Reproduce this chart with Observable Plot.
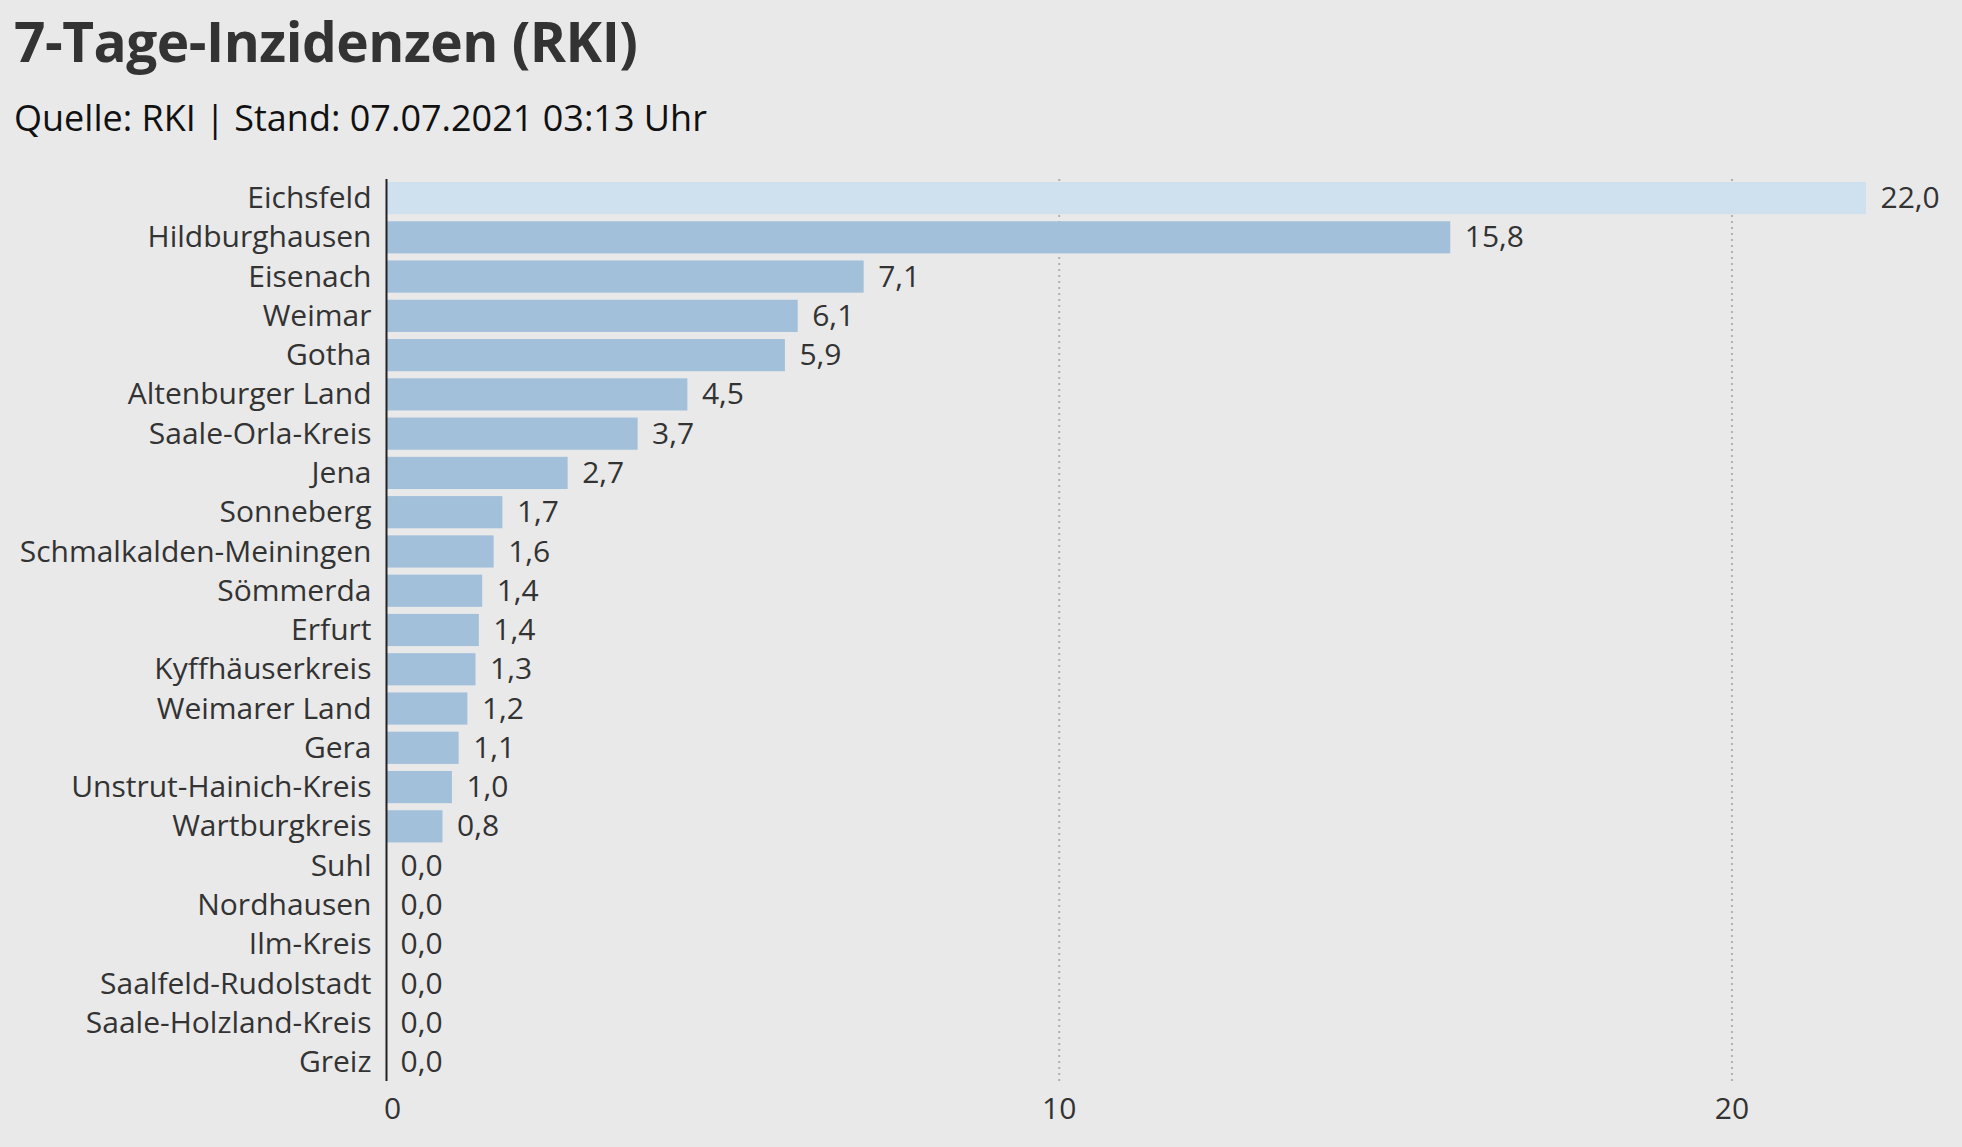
<!DOCTYPE html>
<html>
<head>
<meta charset="utf-8">
<script src="https://cdn.jsdelivr.net/npm/d3@7"></script>
<script src="https://cdn.jsdelivr.net/npm/@observablehq/plot@0.6"></script>
<style>
  html, body { margin: 0; padding: 0; background: #e9e9e9; overflow: hidden; }
  body { font-family: "Open Sans", sans-serif; color: #333; }
  #header { position: relative; height: 160px; }
  #title { position: absolute; left: 14px; top: 3px; font-size: 55px; font-weight: 700; color: #333; letter-spacing: -0.5px; }
  #subtitle { position: absolute; left: 14px; top: 93px; font-size: 36px; font-weight: 400; color: #111; }
</style>
</head>
<body>
<div id="header">
  <div id="title">7-Tage-Inzidenzen (RKI)</div>
  <div id="subtitle">Quelle: RKI | Stand: 07.07.2021 03:13 Uhr</div>
</div>
<div id="chart"></div>
<script>
const districts = ["Eichsfeld","Hildburghausen","Eisenach","Weimar","Gotha","Altenburger Land","Saale-Orla-Kreis","Jena","Sonneberg","Schmalkalden-Meiningen","Sömmerda","Erfurt","Kyffhäuserkreis","Weimarer Land","Gera","Unstrut-Hainich-Kreis","Wartburgkreis","Suhl","Nordhausen","Ilm-Kreis","Saalfeld-Rudolstadt","Saale-Holzland-Kreis","Greiz"];
const incidence = [22.0,15.82,7.10,6.12,5.93,4.48,3.74,2.70,1.73,1.60,1.43,1.38,1.33,1.21,1.08,0.98,0.84,0,0,0,0,0,0];
const xTicks = [0,10,20];

const data = districts.map((name, i) => ({name, value: incidence[i]}));
const fmt = v => v.toFixed(1).replace(".", ",");

const chart = Plot.plot({
  width: 1962,
  height: 987,
  marginTop: 19,
  marginBottom: 66,
  marginLeft: 386,
  marginRight: 96,
  style: {background: "#e9e9e9", fontFamily: "Open Sans, sans-serif", color: "#333", fontSize: "30px"},
  x: {domain: [0, 22], ticks: xTicks},
  y: {domain: districts, paddingInner: 0.18, paddingOuter: 0.075, round: false},
  marks: [
    Plot.gridX(xTicks.filter(t => t > 0), {stroke: "#999", strokeOpacity: 0.7, strokeWidth: 2, strokeDasharray: "2,4"}),
    Plot.barX(data, {x: "value", y: "name", fill: d => d.name === "Eichsfeld" ? "#cfe0ee" : "#a3c0db"}),
    Plot.text(data, {x: "value", y: "name", text: d => fmt(d.value), dx: 14, textAnchor: "start", fill: "#333", fontSize: 30}),
    Plot.axisY({tickSize: 0, tickPadding: 15, fontSize: 30, label: null}),
    Plot.axisX({ticks: xTicks.filter(t => t === 0), tickSize: 0, tickPadding: 16, fontSize: 30, dx: 6, label: null, tickFormat: d => String(d)}),
    Plot.axisX({ticks: xTicks.filter(t => t > 0), tickSize: 0, tickPadding: 16, fontSize: 30, label: null, tickFormat: d => String(d)}),
    Plot.ruleX([0], {stroke: "#222", strokeWidth: 2})
  ]
});
document.getElementById("chart").appendChild(chart);
</script>
</body>
</html>
